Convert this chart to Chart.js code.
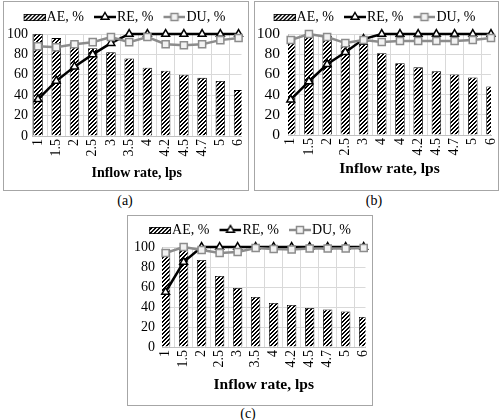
<!DOCTYPE html>
<html><head><meta charset="utf-8">
<script src="https://cdn.jsdelivr.net/npm/chart.js@4.4.1/dist/chart.umd.min.js"></script>
<style>
html,body{margin:0;padding:0;background:#fff;width:500px;height:420px;overflow:hidden;font-family:"Liberation Serif","Times New Roman",serif;}
.frame{position:absolute;border:1px solid #a6a6a6;background:#fff;}
.frame canvas{display:block;}
.cap{position:absolute;font-size:14px;color:#000;text-align:center;width:40px;line-height:16px;}
</style></head><body>
<div class="frame" style="left:3px;top:1px;width:244px;height:188px"><canvas id="ca" width="244" height="188"></canvas></div>
<div class="frame" style="left:254px;top:1px;width:243px;height:188px"><canvas id="cb" width="243" height="188"></canvas></div>
<div class="frame" style="left:127px;top:215px;width:244px;height:189px"><canvas id="cc" width="244" height="189"></canvas></div>
<div class="cap" style="left:105px;top:193px">(a)</div>
<div class="cap" style="left:354px;top:193px">(b)</div>
<div class="cap" style="left:228px;top:406px">(c)</div>
<script>
// ---- data ----
const labelsA = ["1","1.5","2","2.5","3","3.5","4","4.2","4.5","4.7","5","6"];
const labelsB = ["1","1.5","2","2.5","3","4","4","4.2","4.5","4.7","5","6"];
const labelsC = ["1","1.5","2","2.5","3","3.5","4","4.2","4.5","4.7","5","6"];
const aeA = [100,96,92,86,82,76,67,64,60,57,54,45];
const reA = [36,54,68,80,91,100,100,100,100,100,100,100];
const duA = [88,87,90,92,97,92,97,90,89,90,94,96];
const aeB = [98,100,98,89,90,81,71,67,63,60,57,48];
const reB = [35,53,70,82,95,100,100,100,100,100,100,100];
const duB = [94,100,97,91,94,92,93,93,93,93,94,96];
const aeC = [98,100,87,71,59,50,44,42,39,37.5,35.5,30];
const reC = [55,85,100,100,100,100,100,100,100,100,100,100];
const duC = [94,100,97,94,95,99,98,97.5,98.5,98.5,98.5,99];
const yTicks = [0,20,40,60,80,100];
const seriesNames = ["AE, %","RE, %","DU, %"];
const axisTitle = "Inflow rate, lps";

// ---- drawing ----
const FF = '"Liberation Serif","Times New Roman",serif';
const GRID = '#d9d9d9', AXIS = '#bfbfbf', DUCOL = '#8c8c8c';

function hatchPattern(ctx) {
  const c = document.createElement('canvas'); c.width = 4; c.height = 4;
  const g = c.getContext('2d');
  g.fillStyle = '#fff'; g.fillRect(0, 0, 4, 4);
  g.fillStyle = '#000';
  for (let y = 0; y < 4; y++) {
    g.fillRect((3 - y + 4) % 4, y, 1, 1);
    g.fillRect((4 - y) % 4, y, 1, 1);
  }
  return ctx.createPattern(c, 'repeat');
}

function swatch(kind, Wi) {
  const c = document.createElement('canvas'); c.width = Wi; c.height = 12;
  const g = c.getContext('2d');
  const x0 = Wi - 22, cx = x0 + 11, cy = 6;
  if (kind === 'bar') {
    g.fillStyle = hatchPattern(g); g.fillRect(x0, 3, 22, 7);
    g.strokeStyle = '#000'; g.lineWidth = 0.8; g.strokeRect(x0 + 0.4, 3.4, 21.2, 6.2);
  } else if (kind === 'tri') {
    g.strokeStyle = '#000'; g.lineWidth = 2.5;
    g.beginPath(); g.moveTo(x0, cy); g.lineTo(Wi, cy); g.stroke();
    const r = 4.5;
    g.beginPath();
    g.moveTo(cx, cy - r); g.lineTo(cx + 0.866 * r, cy + r / 2); g.lineTo(cx - 0.866 * r, cy + r / 2); g.closePath();
    g.fillStyle = '#fff'; g.fill(); g.lineWidth = 1.5; g.stroke();
  } else {
    g.strokeStyle = DUCOL; g.lineWidth = 2.5;
    g.beginPath(); g.moveTo(x0, cy); g.lineTo(Wi, cy); g.stroke();
    g.fillStyle = '#f2f2f2'; g.fillRect(cx - 3.5, cy - 3.5, 7, 7);
    g.lineWidth = 1.5; g.strokeRect(cx - 3.5, cy - 3.5, 7, 7);
  }
  return c;
}

function makeChart(id, labels, ae, re, du, L) {
  const canvas = document.getElementById(id);
  const ctx = canvas.getContext('2d');
  const W = canvas.width, H = canvas.height;
  const p = L.top - L.legendY - 17;
  const padTop = L.legendY - p - 7;
  const B = 26 - p;
  const Wi = B + 12;
  const sw = [swatch('bar', Wi), swatch('tri', Wi), swatch('sq', Wi)];
  const toXY = arr => arr.map((v, i) => ({x: i, y: v}));
  return new Chart(ctx, {
    type: 'bar',
    data: {
      datasets: [
        { type: 'bar', label: seriesNames[0], data: toXY(ae), backgroundColor: hatchPattern(ctx),
          borderColor: '#000', borderWidth: 0.8, barPercentage: 0.52, categoryPercentage: 1, order: 3, clip: 0 },
        { type: 'line', label: seriesNames[1], data: toXY(re), borderColor: '#000', borderWidth: 2.5,
          pointStyle: 'triangle', pointRadius: 4.5, pointBackgroundColor: '#fff', pointBorderColor: '#000',
          pointBorderWidth: 1.5, tension: 0, order: 2, clip: false },
        { type: 'line', label: seriesNames[2], data: toXY(du), borderColor: DUCOL, borderWidth: 2.5,
          pointStyle: 'rect', pointRadius: 5, pointBackgroundColor: '#f2f2f2', pointBorderColor: DUCOL,
          pointBorderWidth: 1.5, tension: 0, order: 1, clip: false }
      ]
    },
    options: {
      responsive: false, animation: false, events: [],
      layout: { padding: { left: 0, top: padTop, right: W - L.right, bottom: 0 } },
      plugins: {
        tooltip: { enabled: false },
        legend: {
          position: 'top', align: 'center',
          labels: {
            usePointStyle: true, pointStyleWidth: B, padding: p, color: '#000',
            font: { family: FF, size: 14 },
            generateLabels: chart => chart.data.datasets.map((d, i) => ({
              text: d.label, pointStyle: sw[i], datasetIndex: i, hidden: false,
              fillStyle: '#000', strokeStyle: '#000', lineWidth: 0, fontColor: '#000'
            }))
          }
        }
      },
      scales: {
        x: {
          type: 'linear', min: L.xmin, max: L.xmax, offset: false,
          grid: { offset: true, color: GRID, drawTicks: false },
          border: { color: AXIS },
          afterBuildTicks: s => { s.ticks = labels.map((_, i) => ({ value: i })); },
          ticks: { autoSkip: false, minRotation: 90, maxRotation: 90, padding: 3, color: '#000',
                   font: { family: FF, size: 14 }, callback: (v, i) => labels[i] },
          title: { display: true, text: axisTitle, color: '#000',
                   font: { family: FF, size: L.titleFont, weight: 'bold' },
                   padding: { top: 0, bottom: H - L.titleY - L.titleFont * 0.6 } },
          afterFit: s => { s.height = H - L.bottom; s.paddingLeft = 0; s.paddingRight = 0; }
        },
        y: {
          min: 0, max: 100,
          afterBuildTicks: s => { s.ticks = yTicks.map(v => ({ value: v })); },
          grid: { color: GRID, drawTicks: false },
          border: { color: AXIS },
          ticks: { autoSkip: false, padding: L.yPad, color: '#000', font: { family: FF, size: L.yFont } },
          afterFit: s => { s.width = L.left; s.paddingTop = 0; s.paddingBottom = 0; }
        }
      }
    }
  });
}

makeChart('ca', labelsA, aeA, reA, duA,
  { left: 28, right: 238, top: 39, bottom: 134, legendY: 15, xmin: -0.33, xmax: 11.16,
    yFont: 14, titleFont: 14, titleY: 171, yPad: 4 });
makeChart('cb', labelsB, aeB, reB, duB,
  { left: 33, right: 236, top: 39, bottom: 133, legendY: 15, xmin: -0.15, xmax: 11.0,
    yFont: 15.5, titleFont: 15.5, titleY: 167, yPad: 8 });
makeChart('cc', labelsC, aeC, reC, duC,
  { left: 34, right: 240, top: 37, bottom: 131, legendY: 14, xmin: -0.2, xmax: 11.1,
    yFont: 14, titleFont: 15.5, titleY: 169, yPad: 7 });
</script>
</body></html>
